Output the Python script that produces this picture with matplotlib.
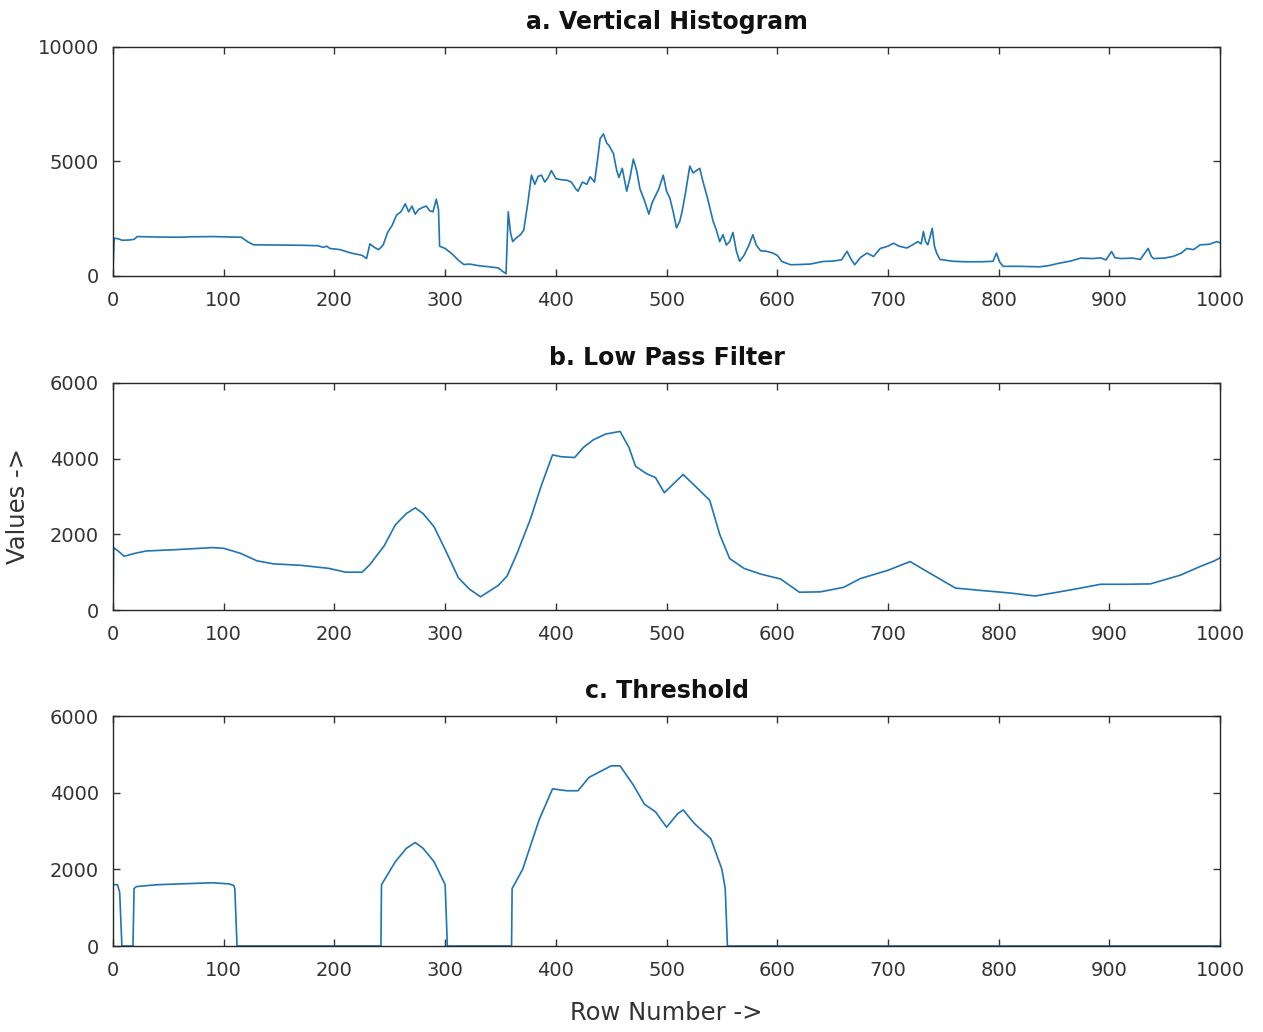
import matplotlib
matplotlib.use('Agg')
import matplotlib.pyplot as plt

plt.rcParams['font.family'] = ['DejaVu Sans']

# a. vertical histogram (row number, value)
hist_x = [0, 1, 5, 8, 15, 19, 22, 40, 60, 70, 90, 110, 116, 122, 127, 150, 170, 185, 190, 193,
          196, 205, 215, 225, 229, 232, 236, 240, 244, 248, 252, 256, 260, 264, 267, 270, 273, 276,
          280, 283, 286, 289, 292, 294, 295, 300, 304, 307, 310, 313, 317, 322, 330, 340, 348, 352,
          355, 357, 359, 361, 364, 368, 371, 375, 378, 381, 384, 387, 390, 393, 396, 400, 405, 410,
          414, 418, 420, 424, 428, 431, 435, 438, 440, 443, 446, 448, 452, 455, 457, 460, 464, 467,
          470, 473, 476, 480, 484, 487, 490, 493, 497, 500, 503, 506, 509, 512, 514, 517, 521, 524,
          527, 530, 533, 537, 542, 545, 548, 551, 554, 557, 560, 563, 566, 570, 574, 578, 581, 585,
          590, 596, 600, 604, 608, 612, 620, 630, 641, 650, 658, 663, 667, 670, 675, 681, 687, 693,
          700, 705, 710, 717, 722, 727, 730, 732, 734, 736, 738, 740, 742, 744, 747, 750, 759, 770,
          785, 795, 798, 801, 804, 819, 837, 845, 855, 865, 874, 885, 892, 897, 902, 905, 910, 921,
          928, 935, 938, 940, 950, 958, 965, 970, 976, 982, 990, 997, 1000]
hist_y = [300, 1650, 1620, 1560, 1570, 1600, 1720, 1700, 1690, 1710, 1720, 1700, 1690, 1480, 1360,
          1350, 1340, 1320, 1250, 1300, 1200, 1150, 1000, 900, 760, 1400, 1250, 1150, 1350, 1900,
          2200, 2650, 2800, 3150, 2800, 3050, 2700, 2900, 3000, 3050, 2850, 2800, 3350, 2900, 1300,
          1200, 1050, 930, 780, 640, 500, 520, 450, 400, 350, 200, 100, 2800, 1900, 1500, 1650, 1800,
          2000, 3300, 4400, 4000, 4350, 4400, 4100, 4300, 4600, 4250, 4200, 4180, 4100, 3800, 3700,
          4100, 4000, 4330, 4100, 5200, 6000, 6200, 5800, 5700, 5350, 4600, 4300, 4700, 3700, 4300,
          5100, 4600, 3800, 3300, 2700, 3200, 3500, 3800, 4400, 3700, 3400, 2800, 2100, 2400, 2800,
          3600, 4800, 4500, 4600, 4700, 4100, 3400, 2400, 2000, 1500, 1800, 1350, 1500, 1900, 1100,
          640, 900, 1300, 1800, 1350, 1100, 1080, 1000, 900, 640, 560, 490, 500, 520, 630, 650, 700,
          1075, 700, 490, 800, 1000, 850, 1200, 1300, 1430, 1300, 1220, 1350, 1500, 1400, 1940, 1500,
          1360, 1700, 2080, 1300, 1000, 720, 700, 640, 620, 620, 640, 1000, 600, 420, 420, 400, 450,
          560, 650, 780, 760, 790, 700, 1070, 800, 760, 780, 720, 1200, 850, 760, 780, 860, 1000,
          1200, 1150, 1360, 1380, 1500, 1450]

# b. low pass filter
lpf_x = [0, 0.5, 5, 10, 20, 30, 60, 90, 100, 115, 130, 145, 170, 195, 210, 225, 232, 245, 255, 265,
         273, 280, 290, 300, 312, 322, 332, 340, 348, 356, 365, 377, 387, 397, 405, 417, 425, 434,
         445, 458, 466, 472, 482, 490, 498, 505, 515, 525, 539, 548, 557, 570, 585, 603, 620, 639,
         660, 675, 700, 720, 738, 761, 783, 810, 833, 855, 874, 892, 915, 937, 964, 982, 995, 1000]
lpf_y = [0, 1650, 1550, 1420, 1500, 1560, 1600, 1650, 1630, 1500, 1300, 1220, 1180, 1100, 1000,
         1000, 1200, 1700, 2250, 2550, 2700, 2550, 2200, 1600, 850, 550, 350, 500, 650, 900, 1500,
         2400, 3300, 4100, 4050, 4030, 4300, 4500, 4650, 4720, 4300, 3800, 3600, 3500, 3100, 3300,
         3580, 3300, 2900, 2000, 1360, 1100, 950, 820, 470, 480, 600, 830, 1050, 1280, 970, 580,
         520, 450, 370, 480, 580, 680, 680, 690, 920, 1150, 1300, 1380]

# c. threshold
thr_x = [0, 4, 6, 8, 18, 19, 21, 40, 60, 90, 105, 109, 110, 112, 242, 242.5, 255, 265, 273, 280,
         290, 300, 302, 360, 360.5, 370, 385, 397, 410, 420, 430, 450, 458, 470, 480, 490, 500,
         510, 515, 525, 540, 550, 553, 555, 1000]
thr_y = [1600, 1600, 1400, 0, 0, 1500, 1550, 1600, 1620, 1650, 1620, 1580, 1500, 0, 0, 1600, 2200,
         2550, 2700, 2550, 2200, 1600, 0, 0, 1500, 2000, 3300, 4100, 4050, 4050, 4400, 4700, 4700,
         4200, 3700, 3500, 3100, 3450, 3550, 3200, 2800, 2000, 1500, 0, 0]

line_color = '#1f74b4'
text_color = '#333333'

fig = plt.figure(figsize=(12.63, 10.32), dpi=100)
left, width = 0.0895, 0.8765
boxes = [(0.7326, 0.2219), (0.4089, 0.2200), (0.0833, 0.2229)]  # (bottom, height)
titles = ['a. Vertical Histogram', 'b. Low Pass Filter', 'c. Threshold']
series = [(hist_x, hist_y), (lpf_x, lpf_y), (thr_x, thr_y)]
ylims = [(0, 10000), (0, 6000), (0, 6000)]
yticks = [[0, 5000, 10000], [0, 2000, 4000, 6000], [0, 2000, 4000, 6000]]

axes = []
for i in range(3):
    ax = fig.add_axes([left, boxes[i][0], width, boxes[i][1]])
    xs, ys = series[i]
    ax.plot(xs, ys, color=line_color, linewidth=1.2)
    ax.set_xlim(0, 1000)
    ax.set_ylim(*ylims[i])
    ax.set_xticks(range(0, 1001, 100))
    ax.set_yticks(yticks[i])
    ax.tick_params(direction='in', length=5, width=1.0, top=True, right=True,
                   labelsize=14, colors=text_color)
    ax.tick_params(axis='x', pad=11)
    ax.tick_params(axis='y', pad=10)
    for sp in ax.spines.values():
        sp.set_linewidth(1.0)
        sp.set_color('#262626')
    ax.set_title(titles[i], fontsize=17, fontweight='bold', color='#111111', pad=12.7)
    axes.append(ax)

axes[1].set_ylabel('Values ->', fontsize=17.5, color=text_color)
axes[1].yaxis.set_label_coords(-0.075, 0.46)
axes[2].set_xlabel('Row Number ->', fontsize=17.5, color=text_color, labelpad=15)

fig.savefig('out.png', dpi=100)
